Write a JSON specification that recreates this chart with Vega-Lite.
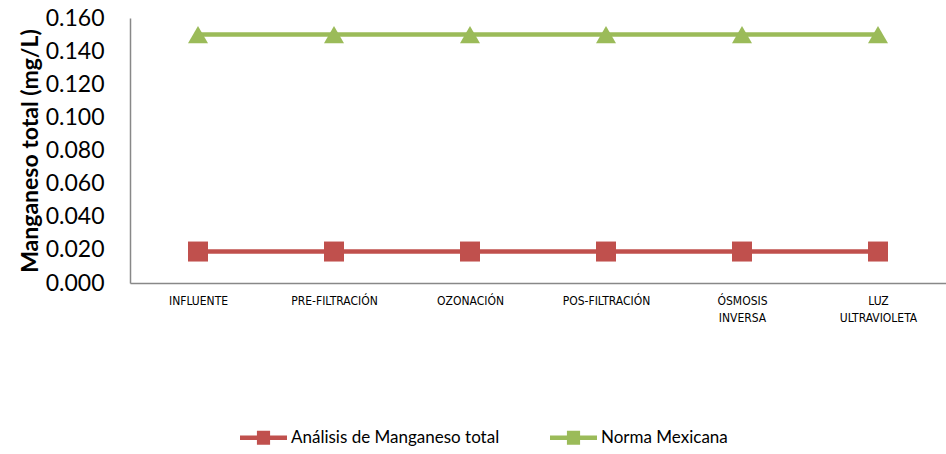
{
  "$schema": "https://vega.github.io/schema/vega-lite/v6.json",
  "autosize": {"type": "none"},
  "padding": {"left": 130, "top": 18, "right": 0, "bottom": 171},
  "width": 816,
  "height": 265,
  "background": "white",
  "config": {"view": {"stroke": null}, "font": "Lato"},
  "data": {"values": [
    {"etapa": "INFLUENTE", "serie": "Análisis de Manganeso total", "valor": 0.019},
    {"etapa": "PRE-FILTRACIÓN", "serie": "Análisis de Manganeso total", "valor": 0.019},
    {"etapa": "OZONACIÓN", "serie": "Análisis de Manganeso total", "valor": 0.019},
    {"etapa": "POS-FILTRACIÓN", "serie": "Análisis de Manganeso total", "valor": 0.019},
    {"etapa": "ÓSMOSIS INVERSA", "serie": "Análisis de Manganeso total", "valor": 0.019},
    {"etapa": "LUZ ULTRAVIOLETA", "serie": "Análisis de Manganeso total", "valor": 0.019},
    {"etapa": "INFLUENTE", "serie": "Norma Mexicana", "valor": 0.15},
    {"etapa": "PRE-FILTRACIÓN", "serie": "Norma Mexicana", "valor": 0.15},
    {"etapa": "OZONACIÓN", "serie": "Norma Mexicana", "valor": 0.15},
    {"etapa": "POS-FILTRACIÓN", "serie": "Norma Mexicana", "valor": 0.15},
    {"etapa": "ÓSMOSIS INVERSA", "serie": "Norma Mexicana", "valor": 0.15},
    {"etapa": "LUZ ULTRAVIOLETA", "serie": "Norma Mexicana", "valor": 0.15}
  ]},
  "encoding": {
    "x": {
      "field": "etapa", "type": "nominal",
      "sort": ["INFLUENTE", "PRE-FILTRACIÓN", "OZONACIÓN", "POS-FILTRACIÓN", "ÓSMOSIS INVERSA", "LUZ ULTRAVIOLETA"],
      "scale": {"type": "point", "padding": 0.5},
      "axis": {
        "title": null, "labelAngle": 0, "ticks": false, "grid": false,
        "domainColor": "#888888", "domainWidth": 1.5,
        "labelFont": "DejaVu Sans Condensed", "labelFontSize": 12, "labelColor": "#000000",
        "labelPadding": 12, "labelLineHeight": 17,
        "labelExpr": "split(datum.label, ' ')"
      }
    },
    "y": {
      "field": "valor", "type": "quantitative",
      "scale": {"domain": [0, 0.16], "nice": false},
      "axis": {
        "title": "Manganeso total (mg/L)", "titleFontSize": 23, "titleFontWeight": "bold",
        "titleColor": "#000000", "titlePadding": 3,
        "values": [0, 0.02, 0.04, 0.06, 0.08, 0.1, 0.12, 0.14, 0.16],
        "format": ".3f", "labelFontSize": 23, "labelColor": "#000000",
        "ticks": false, "grid": false, "labelPadding": 26,
        "domainColor": "#888888", "domainWidth": 1.5
      }
    },
    "color": {
      "field": "serie", "type": "nominal",
      "scale": {"domain": ["Análisis de Manganeso total", "Norma Mexicana"], "range": ["#C0504D", "#9BBB59"]},
      "legend": {
        "title": null, "orient": "none", "legendX": 110, "legendY": 396, "direction": "horizontal",
        "labelFontSize": 17, "labelColor": "#000000", "labelOffset": 4, "labelLimit": 400,
        "columnPadding": 50, "symbolSize": 2209,
        "encode": {"symbols": {"update": {
          "shape": {"value": "M-1,-0.1H-0.28V-0.3H0.28V-0.1H1V0.1H0.28V0.3H-0.28V0.1H-1Z"},
          "fill": {"condition": {"test": "datum.value === 'Norma Mexicana'", "value": "#9BBB59"}, "value": "#C0504D"},
          "stroke": {"value": "transparent"},
          "strokeWidth": {"value": 0},
          "opacity": {"value": 1}
        }}}
      }
    }
  },
  "layer": [
    {"mark": {"type": "line", "strokeWidth": 4.5}},
    {"transform": [{"filter": "datum.serie === 'Análisis de Manganeso total'"}],
     "mark": {"type": "point", "shape": "square", "filled": true, "opacity": 1, "size": 400}},
    {"transform": [{"filter": "datum.serie === 'Norma Mexicana'"}],
     "mark": {"type": "point", "shape": "triangle-up", "filled": true, "opacity": 1, "size": 400}}
  ]
}
